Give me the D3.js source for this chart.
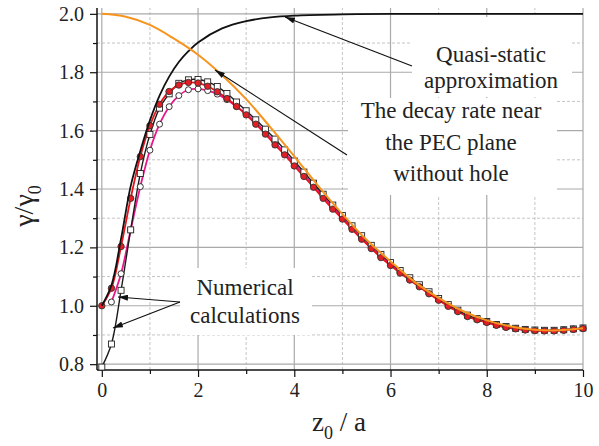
<!DOCTYPE html>
<html>
<head>
<meta charset="utf-8">
<script src="https://d3js.org/d3.v7.min.js"></script>
<style>
  body { margin: 0; background: #fff; }
  text { font-family: "Liberation Serif", "DejaVu Serif", serif; fill: #222; }
</style>
</head>
<body>
<svg id="chart" width="599" height="446"></svg>
<script>
// sample positions z0/a of the numerical series
const zSteps = [0,0.2,0.4,0.6,0.8,1.0,1.2,1.4,1.6,1.8,2.0,2.2,2.4,2.6,2.8,3.0,3.2,3.4,3.6,3.8,4.0,
  4.2,4.4,4.6,4.8,5.0,5.2,5.4,5.6,5.8,6.0,6.2,6.4,6.6,6.8,7.0,7.2,7.4,7.6,7.8,8.0,
  8.2,8.4,8.6,8.8,9.0,9.2,9.4,9.6,9.8,10.0];

// numerical result, filled red circles
const redVals = [1.0,1.06,1.203,1.368,1.511,1.617,1.69,1.734,1.756,1.765,1.763,1.752,1.733,1.71,1.683,1.654,1.622,1.588,1.551,1.517,1.479,
  1.443,1.406,1.368,1.331,1.297,1.262,1.228,1.196,1.165,1.138,1.112,1.088,1.065,1.041,1.019,0.998,0.98,0.963,0.952,0.943,
  0.933,0.926,0.921,0.917,0.915,0.914,0.914,0.916,0.919,0.922];

// numerical result, open squares
const squareVals = [0.79,0.869,1.053,1.26,1.453,1.587,1.677,1.726,1.762,1.774,1.775,1.767,1.751,1.727,1.698,1.668,1.637,1.605,1.571,1.534,1.496,
  1.458,1.42,1.382,1.345,1.309,1.274,1.24,1.207,1.176,1.148,1.121,1.096,1.072,1.048,1.025,1.004,0.985,0.968,0.956,0.946,
  0.936,0.929,0.923,0.919,0.917,0.916,0.916,0.918,0.921,0.924];

// numerical result, open circles (magenta line), starts at 0.2
const circleVals = [null,1.013,1.11,1.26,1.408,1.533,1.622,1.682,1.72,1.74,1.743,1.737,1.725,1.706,1.682,1.658,1.628,1.595,1.559,1.524,1.487,
  1.45,1.413,1.375,1.338,1.303,1.268,1.234,1.201,1.17,1.143,1.116,1.092,1.068,1.044,1.022,1.001,0.982,0.965,0.954,0.944,
  0.934,0.927,0.922,0.918,0.916,0.915,0.915,0.917,0.92,0.923];

// quasi-static approximation
const quasiZ = [0,0.2,0.4,0.6,0.8,1.0,1.2,1.4,1.6,1.8,2.0,2.5,3.0,3.5,4.0,5.0,6.0,8.0,10.0];
const quasiVals = [1.0,1.07,1.23,1.41,1.53,1.635,1.72,1.785,1.835,1.872,1.902,1.95,1.975,1.988,1.994,1.998,2.0,2.0,2.0];

// decay rate near the PEC plane without hole
const pecZ = [0,0.5,1.0,1.5,2.0,2.5,3.0,3.5,4.0,4.5,5.0,5.5,6.0,6.5,7.0,7.5,8.0,8.5,9.0,9.5,10.0];
const pecVals = [2.0,1.99,1.962,1.915,1.86,1.79,1.708,1.612,1.512,1.41,1.314,1.226,1.152,1.082,1.027,0.982,0.95,0.929,0.918,0.916,0.923];

const xTicks = [0,2,4,6,8,10];
const xMinor = [1,3,5,7,9];
const yTicks = [0.8,1.0,1.2,1.4,1.6,1.8,2.0];
const yMinor = [0.9,1.1,1.3,1.5,1.7,1.9];

const svg = d3.select("#chart");
const pLeft = 97, pRight = 583, pTop = 8, pBottom = 370;

const x = d3.scaleLinear().domain([-0.1, 10]).range([pLeft, pRight]);
const y = d3.scaleLinear().domain([0.78, 2.02]).range([pBottom, pTop]);

// grid
const grid = svg.append("g");
xMinor.forEach(function(v) {
  grid.append("line").attr("x1", x(v)).attr("x2", x(v)).attr("y1", pBottom).attr("y2", pTop)
    .attr("stroke", "#c4c4c4").attr("stroke-width", 1).attr("stroke-dasharray", "3,2");
});
yMinor.forEach(function(v) {
  grid.append("line").attr("x1", pLeft).attr("x2", pRight).attr("y1", y(v)).attr("y2", y(v))
    .attr("stroke", "#c4c4c4").attr("stroke-width", 1).attr("stroke-dasharray", "3,2");
});
xTicks.forEach(function(v) {
  grid.append("line").attr("x1", x(v)).attr("x2", x(v)).attr("y1", pBottom).attr("y2", pTop)
    .attr("stroke", "#aaa").attr("stroke-width", 1.2);
});
yTicks.forEach(function(v) {
  grid.append("line").attr("x1", pLeft).attr("x2", pRight).attr("y1", y(v)).attr("y2", y(v))
    .attr("stroke", "#aaa").attr("stroke-width", 1.2);
});

// white boxes behind the annotations
[[412,17,160,80],[348,98,209,97],[180,268,132,67]].forEach(function(b) {
  svg.append("rect").attr("x", b[0]).attr("y", b[1]).attr("width", b[2]).attr("height", b[3]).attr("fill", "#fff");
});

// axes
svg.append("g").attr("transform", "translate(0," + pBottom + ")")
  .call(d3.axisBottom(x).tickValues(xTicks).tickSize(7).tickPadding(6).tickFormat(d3.format("d")));
svg.append("g").attr("transform", "translate(0," + pBottom + ")")
  .call(d3.axisBottom(x).tickValues(xMinor).tickSize(4).tickFormat(""));
svg.append("g").attr("transform", "translate(" + pLeft + ",0)")
  .call(d3.axisLeft(y).tickValues(yTicks).tickSize(7).tickPadding(6).tickFormat(d3.format(".1f")));
svg.append("g").attr("transform", "translate(" + pLeft + ",0)")
  .call(d3.axisLeft(y).tickValues(yMinor).tickSize(4).tickFormat(""));
svg.selectAll(".domain").remove();
svg.selectAll(".tick line").attr("stroke", "#111").attr("stroke-width", 1.2);
svg.selectAll(".tick text").style("font-family", "Liberation Serif, serif").style("font-size", "20px").attr("fill", "#222");
svg.append("line").attr("x1", pLeft).attr("x2", pRight).attr("y1", pBottom).attr("y2", pBottom).attr("stroke", "#111").attr("stroke-width", 1.5);
svg.append("line").attr("x1", pLeft).attr("x2", pLeft).attr("y1", pTop).attr("y2", pBottom).attr("stroke", "#111").attr("stroke-width", 1.5);

// curves
const smooth = d3.line()
  .x(function(d) { return x(d[0]); }).y(function(d) { return y(d[1]); })
  .curve(d3.curveCatmullRom.alpha(0.5));

function pairs(zs, vs) { return zs.map(function(z, i) { return [z, vs[i]]; }); }

const circleData = pairs(zSteps, circleVals).filter(function(d) { return d[1] != null; });
const squareData = pairs(zSteps, squareVals);
const redData = pairs(zSteps, redVals);

svg.append("path").datum(circleData).attr("d", smooth).attr("fill", "none").attr("stroke", "#e8188a").attr("stroke-width", 1.8);
svg.append("path").datum(squareData).attr("d", smooth).attr("fill", "none").attr("stroke", "#1a1a1a").attr("stroke-width", 1.4);
svg.append("path").datum(redData).attr("d", smooth).attr("fill", "none").attr("stroke", "#e8141c").attr("stroke-width", 1.8);

svg.append("g").selectAll("circle").data(circleData).enter().append("circle")
  .attr("cx", function(d) { return x(d[0]); }).attr("cy", function(d) { return y(d[1]); })
  .attr("r", 3).attr("fill", "#fff").attr("stroke", "#222").attr("stroke-width", 0.9);
svg.append("g").selectAll("rect").data(squareData).enter().append("rect")
  .attr("x", function(d) { return x(d[0]) - 3; }).attr("y", function(d) { return y(d[1]) - 3; })
  .attr("width", 6).attr("height", 6).attr("fill", "#fff").attr("stroke", "#222").attr("stroke-width", 0.9);
svg.append("g").selectAll("circle").data(redData).enter().append("circle")
  .attr("cx", function(d) { return x(d[0]); }).attr("cy", function(d) { return y(d[1]); })
  .attr("r", 3.2).attr("fill", "#e31e24").attr("stroke", "#333").attr("stroke-width", 0.9);

svg.append("path").datum(pairs(quasiZ, quasiVals)).attr("d", smooth).attr("fill", "none").attr("stroke", "#111").attr("stroke-width", 1.8);
svg.append("path").datum(pairs(pecZ, pecVals)).attr("d", smooth).attr("fill", "none").attr("stroke", "#f7941d").attr("stroke-width", 2);

// arrows
svg.append("defs").append("marker").attr("id", "arrow").attr("viewBox", "0 0 10 6")
  .attr("refX", 10).attr("refY", 3).attr("markerWidth", 10).attr("markerHeight", 6)
  .attr("markerUnits", "userSpaceOnUse").attr("orient", "auto")
  .append("path").attr("d", "M0,0 L10,3 L0,6 Z").attr("fill", "#111");
[[412,66,285,17],[347,155,215,70],[180,302,118,297],[180,302,113,328]].forEach(function(a) {
  svg.append("line").attr("x1", a[0]).attr("y1", a[1]).attr("x2", a[2]).attr("y2", a[3])
    .attr("stroke", "#111").attr("stroke-width", 1.2).attr("marker-end", "url(#arrow)");
});

// annotation text
function label(lines, cx, y0, dy) {
  lines.forEach(function(t, i) {
    svg.append("text").attr("x", cx).attr("y", y0 + i * dy).attr("text-anchor", "middle")
      .style("font-size", "23px").text(t);
  });
}
label(["Quasi-static", "approximation"], 491, 62, 26);
label(["The decay rate near", "the PEC plane", "without hole"], 451, 118, 31.5);
label(["Numerical", "calculations"], 245, 295, 28);

// axis titles
const xt = svg.append("text").attr("x", 339).attr("y", 431).attr("text-anchor", "middle").style("font-size", "27px");
xt.append("tspan").text("z");
xt.append("tspan").attr("dy", 8).style("font-size", "18px").text("0");
xt.append("tspan").attr("dy", -8).text(" / a");

const yt = svg.append("text").attr("transform", "translate(33,206) rotate(-90)").attr("text-anchor", "middle").style("font-size", "28px");
yt.append("tspan").text("γ/γ");
yt.append("tspan").attr("dy", 8).style("font-size", "18px").text("0");
</script>
</body>
</html>
